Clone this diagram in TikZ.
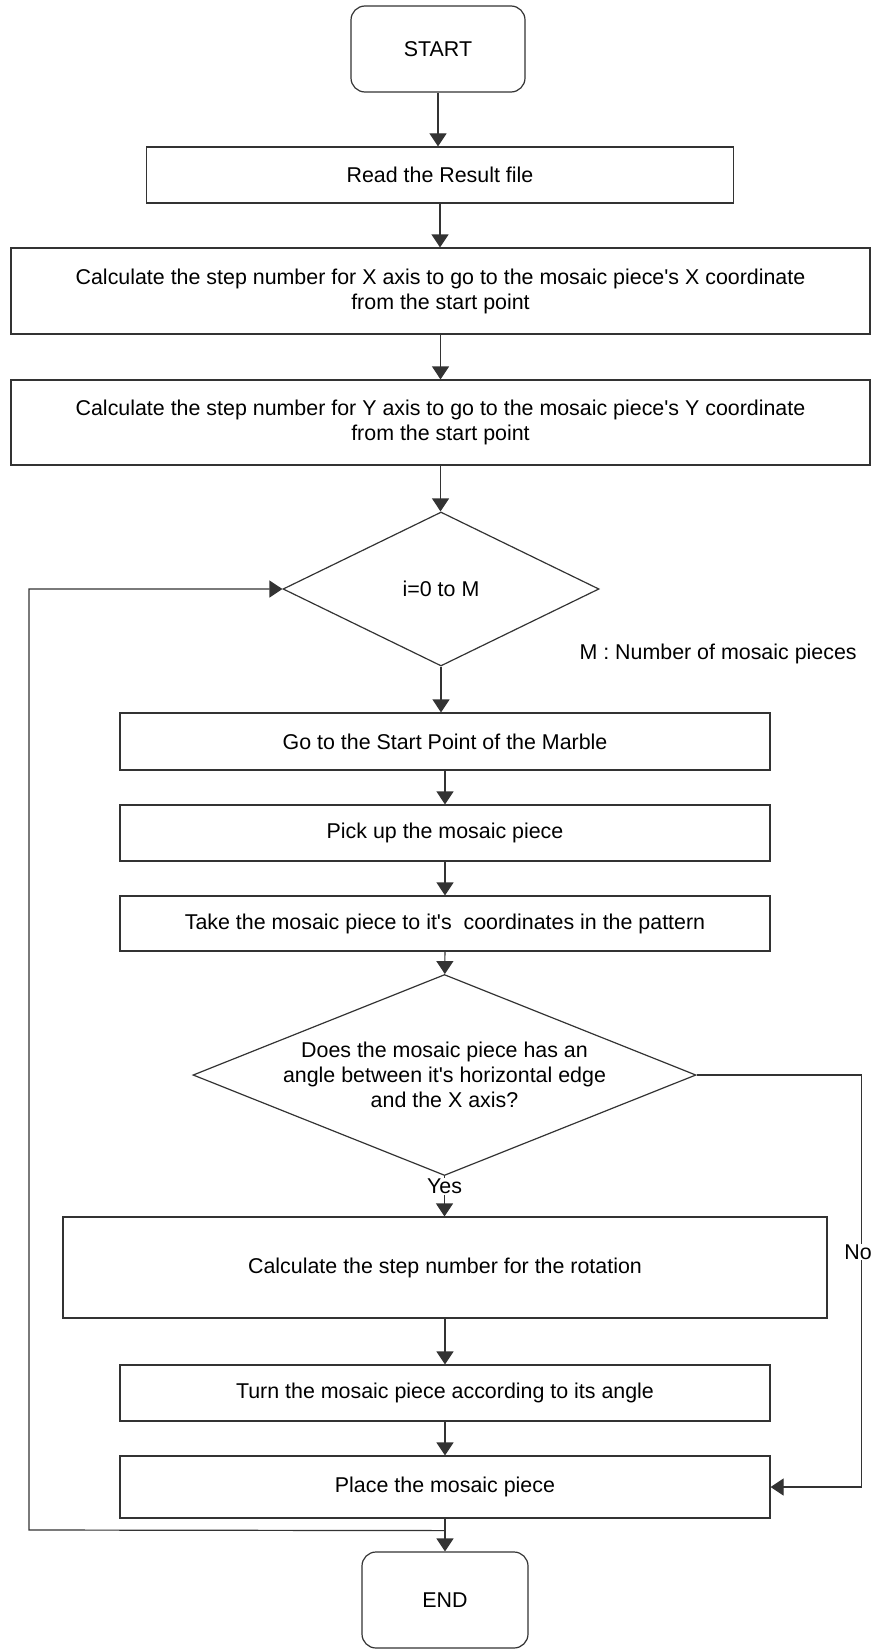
\documentclass[tikz,border=0pt]{standalone}
\usepackage{fontspec}
\setmainfont{Liberation Sans}[Ligatures=TeXOff]
\usepackage{tikz}
\usetikzlibrary{positioning}
\usetikzlibrary{calc,arrows.meta}
\usetikzlibrary{shapes.geometric}

\tikzset{
	flowline/.style = {line width=1.2pt, draw=black!80, -{Triangle[length=13pt,width=17pt]}},
	procbox/.style = {rectangle, draw=black!80, line width=1.2pt, align=center, inner sep=0pt},
	termbox/.style = {procbox, rounded corners=14pt},
	decision/.style = {diamond, draw=black!80, line width=1.2pt, align=center, inner sep=0pt},
	flowtext/.style = {font=\fontsize{21.4}{25}\selectfont, text=black},
}

\begin{document}
\begin{tikzpicture}[x=1pt, y=-1pt, every node/.style={flowtext}]
	
	% ------------------------------------------------
	% Ensure the dimensions of graphic are appropriate
	\useasboundingbox (0,0) rectangle (872,1651);
	
	% ------------------------------------------------
	% Preparation steps
	\node[termbox, minimum width=174pt, minimum height=86pt] (Start) at (438,49) {START};
	\node[procbox, minimum width=587pt, minimum height=56pt] (ReadRes) at (440,175) {Read the Result file};
	\node[procbox, minimum width=859pt, minimum height=86pt] (StepX) at (440.5,291)
		{Calculate the step number for X axis to go to the mosaic piece's X coordinate\\from the start point};
	\node[procbox, minimum width=859pt, minimum height=85pt] (StepY) at (440.5,422.5)
		{Calculate the step number for Y axis to go to the mosaic piece's Y coordinate\\from the start point};
	
	% ----------------
	% Loop over the pieces
	\node[decision, minimum width=316pt, minimum height=154pt] (LoopDec) at (441,589) {i=0 to M};
	\node[anchor=west] (MNote) at (576,654) {M : Number of mosaic pieces};
	
	\node[procbox, minimum width=650pt, minimum height=57pt] (GoStart) at (445,741.5) {Go to the Start Point of the Marble};
	\node[procbox, minimum width=650pt, minimum height=56pt] (PickUp) at (445,833) {Pick up the mosaic piece};
	\node[procbox, minimum width=650pt, minimum height=55pt] (TakePiece) at (445,923.5) {Take the mosaic piece to it's \ coordinates in the pattern};
	
	\node[decision, aspect=2.5, minimum width=503pt, minimum height=201pt] (AngleDec) at (444.5,1075)
		{Does the mosaic piece has an\\angle between it's horizontal edge\\and the X axis?};
	
	\node[procbox, minimum width=764pt, minimum height=101pt] (StepRot) at (445,1267.5) {Calculate the step number for the rotation};
	\node[procbox, minimum width=650pt, minimum height=56pt] (TurnPiece) at (445,1393) {Turn the mosaic piece according to its angle};
	\node[procbox, minimum width=650pt, minimum height=62pt] (PlacePiece) at (445,1487) {Place the mosaic piece};
	
	\node[termbox, minimum width=166pt, minimum height=96pt] (End) at (445,1600) {END};
	
	% ------------------------------------------------
	% Relevant coordinates
	\path (AngleDec.east) +(164.5,0) coordinate (NoTop);
	\path (PlacePiece.south) +(0,12) coordinate (LoopJoin);
	\coordinate (LoopEdge) at (29,1530);
	
	% ----------------
	% Connectors
	\draw[flowline] (Start) -- (Start |- ReadRes.north);
	\draw[flowline] (ReadRes) -- (ReadRes |- StepX.north);
	\draw[flowline] (StepX) -- (StepX |- StepY.north);
	\draw[flowline] (StepY) -- (StepY |- LoopDec.north);
	\draw[flowline] (LoopDec) -- (LoopDec |- GoStart.north);
	\draw[flowline] (GoStart) -- (PickUp);
	\draw[flowline] (PickUp) -- (TakePiece);
	\draw[flowline] (TakePiece) -- (AngleDec);
	\draw[flowline] (AngleDec) -- node[pos=0.25, fill=white, inner sep=1pt] {Yes} (AngleDec |- StepRot.north);
	\draw[flowline] (StepRot) -- (TurnPiece);
	\draw[flowline] (TurnPiece) -- (PlacePiece);
	\draw[flowline] (PlacePiece) -- (End);
	
	% no rotation needed
	\draw[flowline] (AngleDec.east) -- (NoTop) |- node[pos=0.215, fill=white, inner sep=0.5pt, xshift=-3pt] {No} (PlacePiece.east);
	
	% back to the loop head
	\draw[flowline] (LoopJoin) -- (LoopEdge) |- (LoopDec.west);
	
\end{tikzpicture}
\end{document}
